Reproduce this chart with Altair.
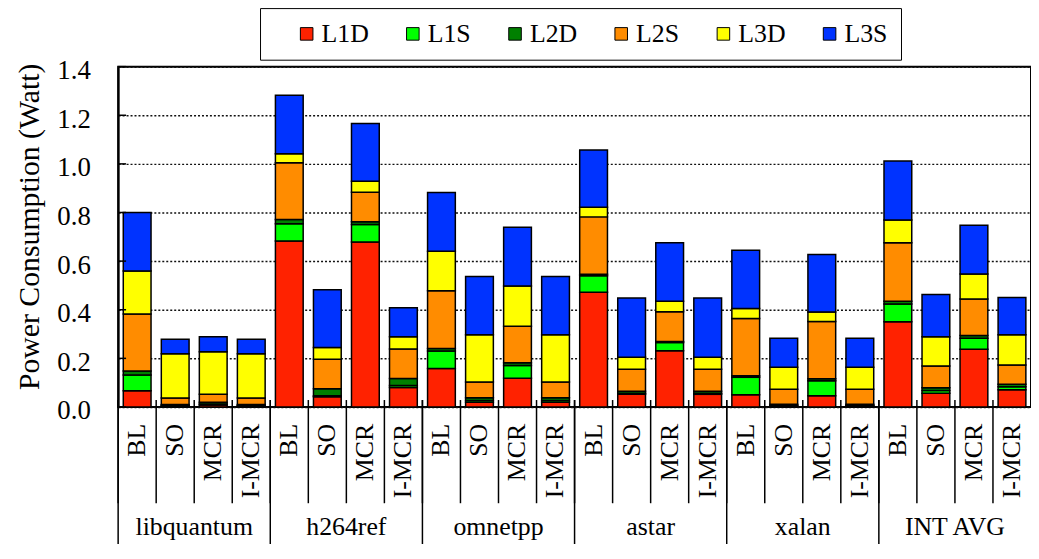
import altair as alt
import pandas as pd

groups = ["libquantum", "h264ref", "omnetpp", "astar", "xalan", "INT AVG"]
configs = ["BL", "SO", "MCR", "I-MCR"]
components = ["L1D", "L1S", "L2D", "L2S", "L3D", "L3S"]
colors = ["#FF2200", "#00FF00", "#008000", "#FF8C00", "#FFFF00", "#0033FF"]

# values per bar, order: libquantum(BL,SO,MCR,I-MCR), h264ref(...), omnetpp, astar, xalan, INT AVG
l1d = [0.067, 0.005, 0.008, 0.005,
       0.683, 0.042, 0.679, 0.080,
       0.158, 0.019, 0.118, 0.019,
       0.472, 0.052, 0.231, 0.052,
       0.050, 0.005, 0.046, 0.005,
       0.351, 0.056, 0.237, 0.071]
l1s = [0.065, 0.002, 0.004, 0.002,
       0.071, 0.004, 0.072, 0.008,
       0.072, 0.008, 0.053, 0.008,
       0.068, 0.004, 0.034, 0.004,
       0.072, 0.002, 0.062, 0.002,
       0.073, 0.012, 0.046, 0.012]
l2d = [0.016, 0.003, 0.007, 0.003,
       0.017, 0.029, 0.011, 0.029,
       0.011, 0.011, 0.011, 0.011,
       0.006, 0.009, 0.004, 0.009,
       0.006, 0.004, 0.008, 0.004,
       0.011, 0.011, 0.011, 0.010]
l2s = [0.234, 0.027, 0.033, 0.027,
       0.234, 0.121, 0.121, 0.121,
       0.237, 0.065, 0.150, 0.065,
       0.236, 0.090, 0.123, 0.090,
       0.236, 0.062, 0.236, 0.062,
       0.241, 0.090, 0.150, 0.080]
l3d = [0.177, 0.182, 0.175, 0.182,
       0.037, 0.049, 0.046, 0.051,
       0.163, 0.194, 0.166, 0.194,
       0.040, 0.050, 0.043, 0.050,
       0.041, 0.090, 0.039, 0.090,
       0.093, 0.120, 0.103, 0.124]
l3s = [0.241, 0.060, 0.062, 0.060,
       0.240, 0.237, 0.237, 0.119,
       0.241, 0.240, 0.241, 0.240,
       0.235, 0.243, 0.241, 0.243,
       0.240, 0.120, 0.236, 0.120,
       0.243, 0.174, 0.201, 0.153]

y_ticks = [0.0, 0.2, 0.4, 0.6, 0.8, 1.0, 1.2, 1.4]
y_title = "Power Consumption (Watt)"

series = dict(zip(components, [l1d, l1s, l2d, l2s, l3d, l3s]))
keys = [f"{g}|{c}" for g in groups for c in configs]

rows = []
for gi, g in enumerate(groups):
    for ci, c in enumerate(configs):
        i = gi * 4 + ci
        for k, comp in enumerate(components):
            rows.append(dict(key=keys[i], group=g, config=c, comp=comp,
                             order=k, value=series[comp][i]))
df = pd.DataFrame(rows)
df_keys = pd.DataFrame({"key": keys,
                        "group": [g for g in groups for c in configs],
                        "config": [c for g in groups for c in configs]})
df_groups_start = df_keys[df_keys["config"] == configs[0]]
df_groups_mid = df_keys[df_keys["config"] == configs[2]]
df_ticks = pd.DataFrame({"value": y_ticks})

H = 343
W = 920
FONT = "Liberation Serif"

xscale = alt.Scale(domain=keys, paddingInner=0, paddingOuter=0)
yscale = alt.Scale(domain=[0, 1.4], nice=False, zero=True)


def y_axis():
    return alt.Axis(values=y_ticks, format=".1f", title=y_title,
                    labelFont=FONT, labelFontSize=27, labelColor="black",
                    labelPadding=28, labelOffset=4, ticks=False,
                    domain=True, domainColor="black", domainWidth=2,
                    grid=True, gridColor="#111111", gridDash=[2, 2], gridWidth=1.5,
                    titleFont=FONT, titleFontSize=30, titleFontWeight="normal",
                    titleColor="black", titleX=-89, titleY=161,
                    titleBaseline="middle", titleAlign="center", titleAngle=270)


bars = alt.Chart(df).mark_bar(
    width=alt.RelativeBandSize(0.73), stroke="black", strokeWidth=1.5
).encode(
    x=alt.X("key:N", scale=xscale, axis=None, sort=keys),
    y=alt.Y("value:Q", stack="zero", scale=yscale, axis=y_axis(), title=y_title),
    color=alt.Color("comp:N", scale=alt.Scale(domain=components, range=colors),
                    legend=alt.Legend(title=" ", titleOrient="left", titlePadding=21,
                                      titleFontSize=26,
                                      orient="none", legendX=143, legendY=-59,
                                      direction="horizontal", symbolType="square",
                                      symbolSize=160, symbolStrokeColor="black",
                                      symbolStrokeWidth=1,
                                      labelFont=FONT, labelFontSize=26, labelColor="black",
                                      labelOffset=2, columnPadding=31, padding=13,
                                      strokeColor="black")),
    order=alt.Order("order:Q"),
)

ticks_in = alt.Chart(df_ticks).mark_rule(color="black", strokeWidth=1.5).encode(
    y=alt.Y("value:Q", scale=yscale, axis=y_axis(), title=y_title),
    x=alt.value(0), x2=alt.value(8),
)

sep_cfg = alt.Chart(df_keys).mark_rule(color="black", strokeWidth=1.5).encode(
    x=alt.X("key:N", scale=xscale, axis=None, bandPosition=0),
    y=alt.value(H - 7), y2=alt.value(H + 97),
)

sep_grp = alt.Chart(df_groups_start).mark_rule(color="black", strokeWidth=1.5).encode(
    x=alt.X("key:N", scale=xscale, axis=None, bandPosition=0),
    y=alt.value(H - 7), y2=alt.value(H + 140),
)

cfg_text = alt.Chart(df_keys).mark_text(
    angle=270, align="right", baseline="middle", font=FONT, fontSize=26, color="black"
).encode(
    x=alt.X("key:N", scale=xscale, axis=None),
    y=alt.value(H + 17),
    text="config:N",
)

grp_text = alt.Chart(df_groups_mid).mark_text(
    align="center", baseline="middle", font=FONT, fontSize=26, color="black"
).encode(
    x=alt.X("key:N", scale=xscale, axis=None, bandPosition=0),
    y=alt.value(H + 121),
    text="group:N",
)

chart = alt.layer(bars, ticks_in, sep_cfg, sep_grp, cfg_text, grp_text).properties(
    width=W, height=H,
    autosize=alt.AutoSizeParams(type="none"),
    padding={"left": 111, "top": 57, "right": 0, "bottom": 136},
).configure(font=FONT).configure_view(
    stroke="black", strokeWidth=2
).configure_legend(labelFont=FONT, titleFont=FONT)

chart.save("out.html", embed_options={"renderer": "svg", "actions": False})
